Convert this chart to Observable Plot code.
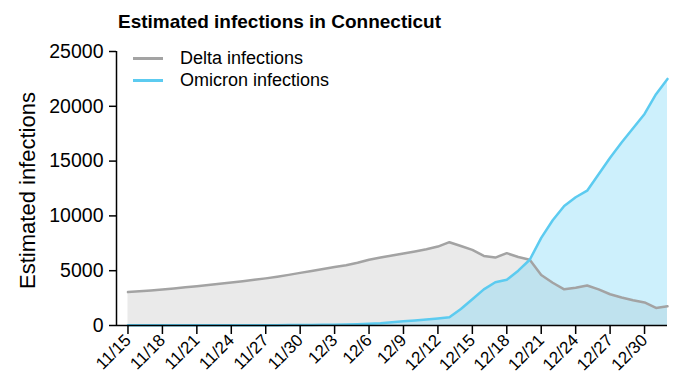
<!DOCTYPE html>
<html><head><meta charset="utf-8">
<script src="https://cdn.jsdelivr.net/npm/d3@7"></script>
<script src="https://cdn.jsdelivr.net/npm/@observablehq/plot@0.6"></script>
<style>
body{margin:0;background:#fff;font-family:"Liberation Sans",Arial,sans-serif;color:#000;}
#wrap{position:relative;width:680px;height:392px;overflow:hidden;}
#title{position:absolute;left:118px;top:11px;font-weight:bold;font-size:19px;white-space:nowrap;}
.leg{position:absolute;left:133px;font-size:18px;display:flex;align-items:center;height:20px;white-space:nowrap;}
.leg .sw{display:inline-block;width:30px;height:3px;margin-right:17px;}
</style></head><body>
<div id="wrap">
<div id="chart"></div>
<div id="title">Estimated infections in Connecticut</div>
<div class="leg" style="top:48px"><span class="sw" style="background:#a3a3a3"></span>Delta infections</div>
<div class="leg" style="top:70px"><span class="sw" style="background:#5ccbf0"></span>Omicron infections</div>
</div>
<script>
const dates = ["2021-11-15","2021-11-16","2021-11-17","2021-11-18","2021-11-19","2021-11-20","2021-11-21","2021-11-22","2021-11-23","2021-11-24","2021-11-25","2021-11-26","2021-11-27","2021-11-28","2021-11-29","2021-11-30","2021-12-01","2021-12-02","2021-12-03","2021-12-04","2021-12-05","2021-12-06","2021-12-07","2021-12-08","2021-12-09","2021-12-10","2021-12-11","2021-12-12","2021-12-13","2021-12-14","2021-12-15","2021-12-16","2021-12-17","2021-12-18","2021-12-19","2021-12-20","2021-12-21","2021-12-22","2021-12-23","2021-12-24","2021-12-25","2021-12-26","2021-12-27","2021-12-28","2021-12-29","2021-12-30","2021-12-31","2022-01-01"];
const delta = [3050,3120,3200,3290,3380,3480,3580,3690,3800,3920,4040,4170,4300,4450,4620,4800,4980,5150,5330,5500,5720,6000,6200,6380,6560,6750,6950,7200,7600,7250,6900,6350,6200,6600,6250,6000,4600,3900,3300,3450,3650,3300,2850,2550,2300,2100,1600,1750];
const omicron = [20,20,20,20,20,20,20,20,20,20,30,30,30,30,40,40,50,60,70,90,110,150,200,290,380,460,540,640,750,1500,2400,3300,3950,4170,5000,6000,8000,9600,10900,11700,12300,13800,15300,16700,18000,19300,21100,22500];
const tickDates = ["2021-11-15","2021-11-18","2021-11-21","2021-11-24","2021-11-27","2021-11-30","2021-12-03","2021-12-06","2021-12-09","2021-12-12","2021-12-15","2021-12-18","2021-12-21","2021-12-24","2021-12-27","2021-12-30"];
const tickLabels = ["11/15","11/18","11/21","11/24","11/27","11/30","12/3","12/6","12/9","12/12","12/15","12/18","12/21","12/24","12/27","12/30"];
const yTicks = [0,5000,10000,15000,20000,25000];

const parse = d3.utcParse("%Y-%m-%d");
const data = dates.map((d,i)=>({date: parse(d), delta: delta[i], omicron: omicron[i]}));
const tDates = tickDates.map(parse);
const x0 = parse("2021-11-14");
const x1 = parse(dates[dates.length-1]);

const chart = Plot.plot({
  width: 680, height: 392,
  marginLeft: 116, marginRight: 13, marginTop: 51, marginBottom: 67,
  style: {fontFamily: '"Liberation Sans", Arial, sans-serif', color: "#000", background: "#fff"},
  x: {type: "utc", domain: [x0, x1]},
  y: {domain: [0, 25000]},
  marks: [
    Plot.areaY(data, {x: "date", y: "delta", fill: "#eaeaea"}),
    Plot.areaY(data, {x: "date", y: "omicron", fill: "#70d4f6", fillOpacity: 0.35}),
    Plot.lineY(data, {x: "date", y: "delta", stroke: "#a3a3a3", strokeWidth: 2.5}),
    Plot.lineY(data, {x: "date", y: "omicron", stroke: "#5ccbf0", strokeWidth: 2.5}),
    Plot.ruleX([x0], {y1: 0, y2: 25000, stroke: "#000", strokeWidth: 1.5}),
    Plot.ruleY([0], {x1: x0, x2: x1, stroke: "#000", strokeWidth: 1.5}),
    Plot.axisY({ticks: yTicks, tickSize: 7, tickPadding: 6, fontSize: 19.5, tickFormat: d3.format("d"), label: null, strokeWidth: 1.5}),
    Plot.axisX({ticks: tDates, tickSize: 9, tickPadding: 3, tickRotate: -45, fontSize: 17, tickFormat: (d) => tickLabels[tDates.findIndex(t => +t === +d)], label: null, strokeWidth: 1.5}),
    Plot.text(["Estimated infections"], {frameAnchor: "left", textAnchor: "middle", rotate: -90, dx: -89, dy: 2, fontSize: 22, fill: "#000"})
  ]
});
document.getElementById("chart").appendChild(chart);
</script>
</body></html>
